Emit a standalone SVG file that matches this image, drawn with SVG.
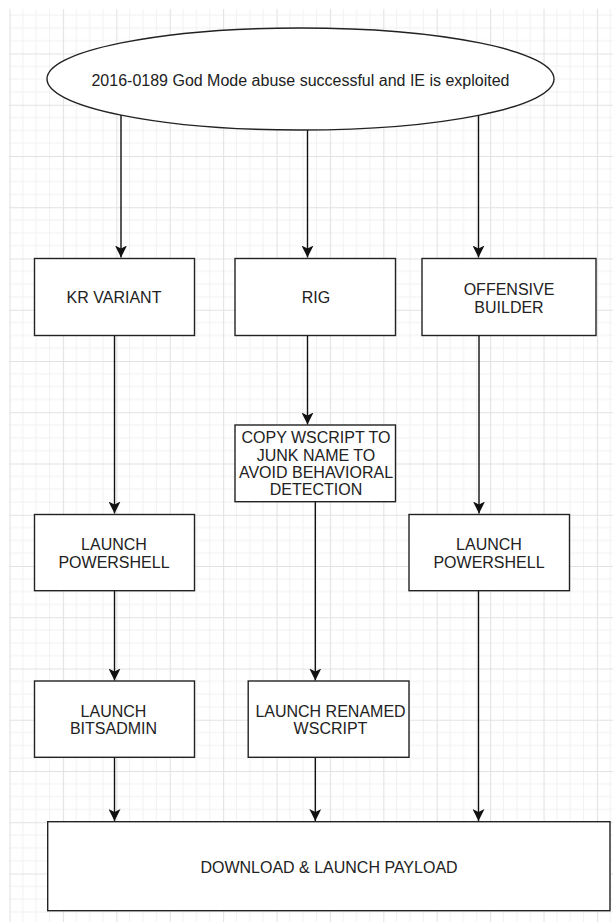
<svg xmlns="http://www.w3.org/2000/svg" width="613" height="922" viewBox="0 0 613 922">
<style>
.node{fill:#ffffff;stroke:#222222;stroke-width:1.4}
.lbl{font-family:"Liberation Sans",Arial,sans-serif;font-size:16px;fill:#222222;text-anchor:middle}
.edge{fill:none;stroke:#111111;stroke-width:1.4}
.minor{stroke:#f1f1f1;stroke-width:1}
.major{stroke:#e2e2e2;stroke-width:1.2}
</style>
<defs>
<pattern id="grid" patternUnits="userSpaceOnUse" x="9.5" y="2.25" width="53.4" height="51.25">
<line class="minor" x1="13.35" y1="0" x2="13.35" y2="51.25"/>
<line class="minor" x1="26.7" y1="0" x2="26.7" y2="51.25"/>
<line class="minor" x1="40.05" y1="0" x2="40.05" y2="51.25"/>
<line class="minor" x1="0" y1="12.8" x2="53.4" y2="12.8"/>
<line class="minor" x1="0" y1="25.6" x2="53.4" y2="25.6"/>
<line class="minor" x1="0" y1="38.4" x2="53.4" y2="38.4"/>
<line class="major" x1="0.5" y1="0" x2="0.5" y2="51.25"/>
<line class="major" x1="0" y1="0.5" x2="53.4" y2="0.5"/>
</pattern>
<marker id="arrow" markerUnits="userSpaceOnUse" markerWidth="12" markerHeight="12" refX="10" refY="5" orient="auto" viewBox="0 0 10 10">
<path d="M0,0 L10,5 L0,10 L2.5,5 Z" fill="#111111"/>
</marker>
</defs>
<rect x="0" y="0" width="613" height="922" fill="#ffffff"/>
<rect x="9" y="9" width="604" height="913" fill="url(#grid)"/>

<g id="connectors">
<line class="edge" x1="121" y1="115" x2="121" y2="257.5" marker-end="url(#arrow)"/>
<line class="edge" x1="307.5" y1="130" x2="307.5" y2="257.5" marker-end="url(#arrow)"/>
<line class="edge" x1="478.5" y1="115" x2="478.5" y2="257.5" marker-end="url(#arrow)"/>
<line class="edge" x1="114.5" y1="336" x2="114.5" y2="513.5" marker-end="url(#arrow)"/>
<line class="edge" x1="307.5" y1="336" x2="307.5" y2="424.5" marker-end="url(#arrow)"/>
<line class="edge" x1="479" y1="336" x2="479" y2="513.5" marker-end="url(#arrow)"/>
<line class="edge" x1="114.5" y1="591" x2="114.5" y2="680.5" marker-end="url(#arrow)"/>
<line class="edge" x1="315.3" y1="502" x2="315.3" y2="680.5" marker-end="url(#arrow)"/>
<line class="edge" x1="478.5" y1="591" x2="478.5" y2="821" marker-end="url(#arrow)"/>
<line class="edge" x1="114.5" y1="757.5" x2="114.5" y2="821" marker-end="url(#arrow)"/>
<line class="edge" x1="315.3" y1="757.5" x2="315.3" y2="821" marker-end="url(#arrow)"/>
</g>

<g id="start">
<ellipse class="node" cx="300.5" cy="79" rx="253.5" ry="51"/>
<text class="lbl" x="300.5" y="86">2016-0189 God Mode abuse successful and IE is exploited</text>
</g>

<g id="kr-variant">
<rect class="node" x="34.5" y="258.5" width="160" height="77"/>
<text class="lbl" x="114" y="303">KR VARIANT</text>
</g>

<g id="rig">
<rect class="node" x="235" y="258.5" width="160.5" height="77"/>
<text class="lbl" x="316" y="303">RIG</text>
</g>

<g id="offensive-builder">
<rect class="node" x="422" y="258.5" width="174" height="77"/>
<text class="lbl" x="509" y="295">OFFENSIVE</text>
<text class="lbl" x="509" y="312.5">BUILDER</text>
</g>

<g id="copy-wscript">
<rect class="node" x="235" y="425" width="160.5" height="76.7"/>
<text class="lbl" x="316" y="443">COPY WSCRIPT TO</text>
<text class="lbl" x="316" y="460.5">JUNK NAME TO</text>
<text class="lbl" x="316" y="477.5">AVOID BEHAVIORAL</text>
<text class="lbl" x="316" y="495">DETECTION</text>
</g>

<g id="kr-powershell">
<rect class="node" x="34.5" y="514.5" width="160" height="76.2"/>
<text class="lbl" x="114" y="550">LAUNCH</text>
<text class="lbl" x="114" y="568">POWERSHELL</text>
</g>

<g id="ob-powershell">
<rect class="node" x="409" y="514.5" width="160.5" height="76.2"/>
<text class="lbl" x="489" y="550">LAUNCH</text>
<text class="lbl" x="489" y="568">POWERSHELL</text>
</g>

<g id="bitsadmin">
<rect class="node" x="34.5" y="681" width="160" height="76.3"/>
<text class="lbl" x="113.5" y="716.5">LAUNCH</text>
<text class="lbl" x="113.5" y="734">BITSADMIN</text>
</g>

<g id="renamed-wscript">
<rect class="node" x="248.2" y="681" width="160.8" height="76.3"/>
<text class="lbl" x="330.5" y="716.5">LAUNCH RENAMED</text>
<text class="lbl" x="330.5" y="734">WSCRIPT</text>
</g>

<g id="payload">
<rect class="node" x="47.7" y="821.7" width="562.3" height="89"/>
<text class="lbl" x="329" y="872.5">DOWNLOAD &amp; LAUNCH PAYLOAD</text>
</g>
</svg>
